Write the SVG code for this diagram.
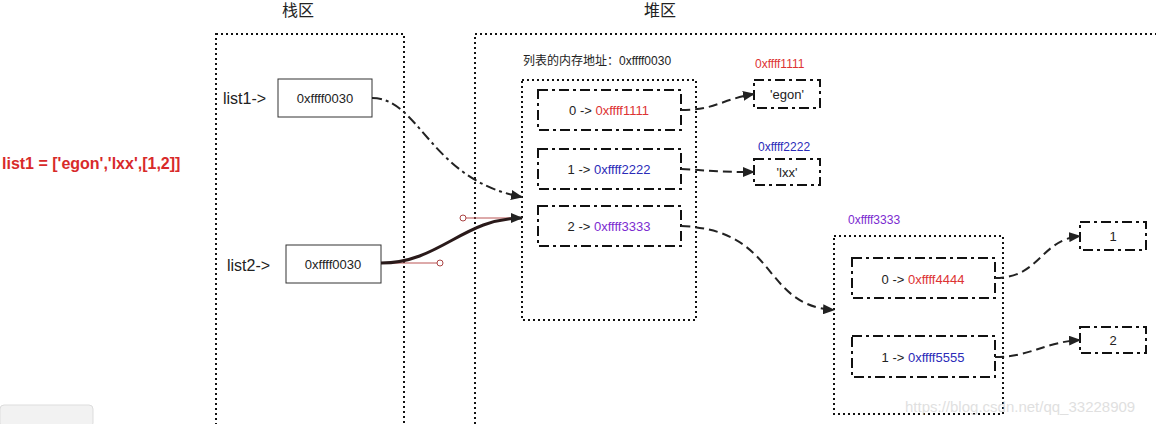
<svg xmlns="http://www.w3.org/2000/svg" width="1156" height="424" viewBox="0 0 1156 424">
<style>
text{font-family:"Liberation Sans","Noto Sans CJK SC",sans-serif;fill:#222}
.dot{fill:none;stroke:#111;stroke-width:2;stroke-dasharray:2 3}
.dd{fill:#fff;stroke:#111;stroke-width:2;stroke-dasharray:10 4 3 4}
.sol{fill:#fff;stroke:#333;stroke-width:1}
.c{stroke:#222;stroke-width:2;fill:none}
.r{fill:#d33}.b{fill:#2b2bb8}.p{fill:#7b2bd0}
</style>
<defs><marker id="a" markerWidth="12" markerHeight="10" refX="11" refY="5" orient="auto" markerUnits="userSpaceOnUse"><path d="M0,0L12,5L0,10z" fill="#222"/></marker></defs>
<rect x="0" y="405" width="93" height="22" rx="4" fill="#f2f2f2" stroke="#ddd"/>
<text x="2" y="169" font-size="16" font-weight="bold" style="fill:#d82a2a">list1 = ['egon','lxx',[1,2]]</text>
<g id="stack"><rect class="dot" x="216" y="34" width="188" height="400"/><text x="298" y="16" font-size="16" text-anchor="middle">栈区</text></g>
<g id="heap"><rect class="dot" x="475" y="34" width="700" height="400"/><text x="660" y="16" font-size="16" text-anchor="middle">堆区</text></g>
<g id="list1"><text x="223" y="104" font-size="16">list1-&gt;</text><rect class="sol" x="278" y="79" width="94" height="38"/><text x="325" y="103" font-size="13" text-anchor="middle">0xffff0030</text></g>
<g id="list2"><text x="227" y="271" font-size="16">list2-&gt;</text><rect class="sol" x="286" y="245" width="95" height="38"/><text x="333" y="269" font-size="13" text-anchor="middle">0xffff0030</text></g>
<g id="outer"><text x="523" y="65" font-size="12">列表的内存地址：0xffff0030</text><rect class="dot" x="522" y="80" width="174" height="240"/></g>
<g id="i0"><rect class="dd" x="538" y="90" width="143" height="40"/><text x="609" y="115" font-size="13" text-anchor="middle">0 -&gt; <tspan class="r">0xffff1111</tspan></text></g>
<g id="i1"><rect class="dd" x="538" y="149" width="143" height="40"/><text x="609" y="174" font-size="13" text-anchor="middle">1 -&gt; <tspan class="b">0xffff2222</tspan></text></g>
<g id="i2"><rect class="dd" x="538" y="206" width="143" height="40"/><text x="609" y="231" font-size="13" text-anchor="middle">2 -&gt; <tspan class="p">0xffff3333</tspan></text></g>
<g id="egon"><text x="755" y="68" font-size="12" class="r">0xffff1111</text><rect class="dd" x="754" y="80" width="66" height="28"/><text x="787" y="99" font-size="13" text-anchor="middle">'egon'</text></g>
<g id="lxx"><text x="758" y="151" font-size="12" class="b">0xffff2222</text><rect class="dd" x="754" y="159" width="66" height="26"/><text x="787" y="177" font-size="13" text-anchor="middle">'lxx'</text></g>
<g id="inner"><text x="848" y="224" font-size="12" class="p">0xffff3333</text><rect class="dot" x="834" y="236" width="169" height="178"/></g>
<g id="j0"><rect class="dd" x="852" y="258" width="143" height="40"/><text x="923" y="284" font-size="13" text-anchor="middle">0 -&gt; <tspan class="r">0xffff4444</tspan></text></g>
<g id="j1"><rect class="dd" x="852" y="336" width="143" height="41"/><text x="923" y="362" font-size="13" text-anchor="middle">1 -&gt; <tspan class="b">0xffff5555</tspan></text></g>
<g id="v1"><rect class="dd" x="1080" y="222" width="66" height="28"/><text x="1113" y="241" font-size="13" text-anchor="middle">1</text></g>
<g id="v2"><rect class="dd" x="1080" y="327" width="66" height="26"/><text x="1113" y="345" font-size="13" text-anchor="middle">2</text></g>
<text x="905" y="412" font-size="15" style="fill:#ccc;opacity:0.6">https://blog.csdn.net/qq_33228909</text>
<g id="connectors">
<path class="c" d="M372,98C420,98 430,180 522,197" stroke-dasharray="10 4 3 4" marker-end="url(#a)"/>
<path d="M463,218H522M381,263H440" stroke="#b55" stroke-width="1"/><circle cx="463" cy="218" r="3" fill="#fff" stroke="#a44"/><circle cx="440" cy="263" r="3" fill="#fff" stroke="#a44"/>
<path d="M381,263C440,263 463,218 522,218" stroke="#2a1a1a" stroke-width="3" fill="none" marker-end="url(#a)"/>
<path class="c" d="M681,110C715,110 720,100 754,94" stroke-dasharray="9 5" marker-end="url(#a)"/>
<path class="c" d="M681,169C715,171 720,172 754,172" stroke-dasharray="9 5" marker-end="url(#a)"/>
<path class="c" d="M681,226C780,230 760,305 834,310" stroke-dasharray="9 5" marker-end="url(#a)"/>
<path class="c" d="M995,278C1040,278 1040,240 1080,236" stroke-dasharray="9 5" marker-end="url(#a)"/>
<path class="c" d="M995,357C1030,357 1045,342 1080,340" stroke-dasharray="9 5" marker-end="url(#a)"/>
</g>
</svg>
